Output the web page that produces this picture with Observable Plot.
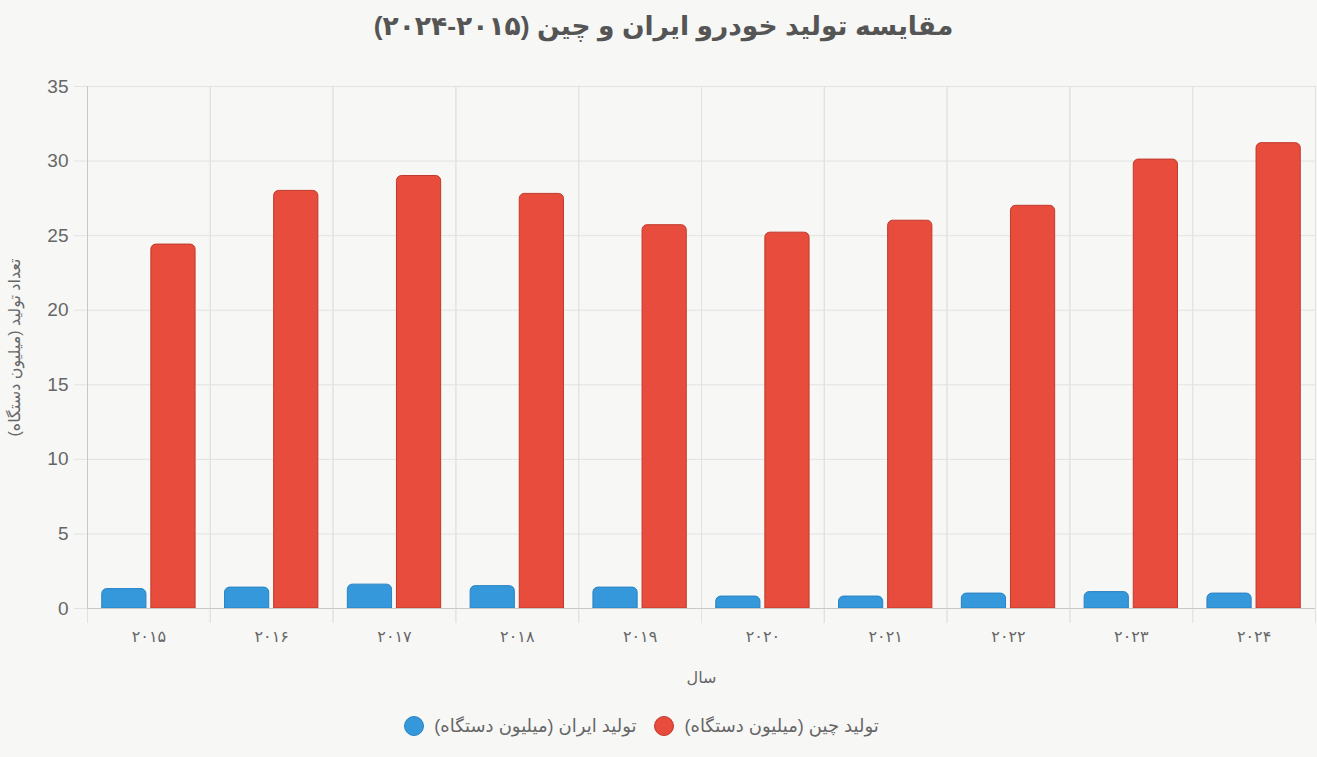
<!DOCTYPE html>
<html>
<head>
<meta charset="utf-8">
<script src="https://cdn.jsdelivr.net/npm/d3@7"></script>
<script src="https://cdn.jsdelivr.net/npm/@observablehq/plot@0.6"></script>
<style>
  html, body { margin: 0; padding: 0; background: #f7f7f6; }
  body { width: 1317px; height: 757px; overflow: hidden; font-family: "Liberation Sans", Arial, "DejaVu Sans", sans-serif; }
  #title { height: 60px; line-height: 52px; text-align: center; font-size: 26.5px; font-weight: bold; color: #555; padding-left: 10px; box-sizing: border-box; }
  #legend { display: flex; justify-content: center; align-items: center; height: 62px; gap: 18px; color: #666; font-size: 18px; direction: ltr; padding-right: 34px; box-sizing: border-box; }
  .item { display: flex; align-items: center; gap: 10px; }
  .dot { width: 20px; height: 20px; border-radius: 50%; box-sizing: border-box; border: 1px solid; }
  g[aria-label="y-axis label"] { font-size: 16px; }
  g[aria-label="fx-axis label"] { font-size: 16px; }
</style>
</head>
<body>
<div id="title" dir="rtl">مقایسه تولید خودرو ایران و چین (۲۰۱۵-۲۰۲۴)</div>
<div id="chart"></div>
<div id="legend"></div>
<script>
// ---- data ----
const years = ["۲۰۱۵", "۲۰۱۶", "۲۰۱۷", "۲۰۱۸", "۲۰۱۹", "۲۰۲۰", "۲۰۲۱", "۲۰۲۲", "۲۰۲۳", "۲۰۲۴"];
const iranProduction = [1.3, 1.4, 1.6, 1.5, 1.4, 0.8, 0.8, 1.0, 1.1, 1.0];
const chinaProduction = [24.4, 28.0, 29.0, 27.8, 25.7, 25.2, 26.0, 27.0, 30.1, 31.2];
const seriesNames = ["تولید ایران (میلیون دستگاه)", "تولید چین (میلیون دستگاه)"];
const yTicks = [0, 5, 10, 15, 20, 25, 30, 35];
const yLabel = "تعداد تولید (میلیون دستگاه)";
const xLabel = "سال";

// ---- styles ----
const fills = ["#3498db", "#e74c3c"];
const strokes = ["#2a82c4", "#c0392b"];
const RLM = "\u200F";

const table = [];
years.forEach((y, i) => {
  table.push({year: y, series: seriesNames[0], value: iranProduction[i]});
  table.push({year: y, series: seriesNames[1], value: chinaProduction[i]});
});

const gridColor = "#e2e2e2";
const axisColor = "#c8c8c8";

const chart = Plot.plot({
  width: 1317,
  height: 635,
  marginLeft: 87,
  marginRight: 2,
  marginTop: 26,
  marginBottom: 87,
  style: {background: "transparent", color: "#666", fontFamily: "'Liberation Sans', Arial, 'DejaVu Sans', sans-serif"},
  fx: {domain: years, padding: 0, round: false},
  x: {domain: seriesNames, paddingInner: 0.1, paddingOuter: 0.3, axis: null, round: false},
  y: {domain: [0, 35]},
  marks: [
    Plot.gridY(yTicks, {stroke: gridColor, strokeOpacity: 1}),
    Plot.frame({anchor: "left", stroke: gridColor, insetBottom: -14}),
    Plot.frame({anchor: "right", stroke: gridColor, insetBottom: -14}),
    Plot.frame({anchor: "left", stroke: axisColor, facetAnchor: "left"}),
    Plot.barY(table.filter(d => d.series === seriesNames[0]), {fx: "year", x: "series", y: "value", fill: fills[0], stroke: strokes[0], strokeWidth: 1, ry1: 5}),
    Plot.barY(table.filter(d => d.series === seriesNames[1]), {fx: "year", x: "series", y: "value", fill: fills[1], stroke: strokes[1], strokeWidth: 1, ry1: 5}),
    Plot.ruleY([0], {stroke: axisColor}),
    Plot.axisY(yTicks, {tickSize: 13, tickPadding: 6, stroke: gridColor, fontSize: 19, fill: "#666",
      label: yLabel + RLM, labelAnchor: "center", labelOffset: 79, labelArrow: "none"}),
    Plot.axisFx({anchor: "bottom", tickSize: 0, tickPadding: 22, fontSize: 16, fill: "#666",
      label: xLabel, labelAnchor: "center", labelOffset: 74, labelArrow: "none"})
  ]
});
document.getElementById("chart").appendChild(chart);

// legend
const legend = document.getElementById("legend");
seriesNames.forEach((name, i) => {
  const item = document.createElement("div");
  item.className = "item";
  const dot = document.createElement("span");
  dot.className = "dot";
  dot.style.background = fills[i];
  dot.style.borderColor = strokes[i];
  const txt = document.createElement("span");
  txt.dir = "rtl";
  txt.textContent = name;
  item.appendChild(dot);
  item.appendChild(txt);
  legend.appendChild(item);
});
</script>
</body>
</html>
